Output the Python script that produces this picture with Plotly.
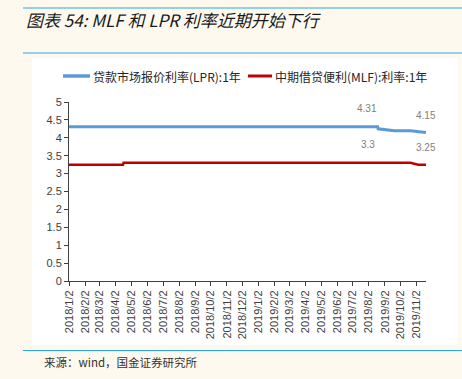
import plotly.graph_objects as go

# ---- data ----
lpr_dates = ["2018-01-02", "2019-08-19", "2019-08-20", "2019-09-20", "2019-10-21", "2019-11-20"]
lpr_values = [4.31, 4.31, 4.25, 4.20, 4.20, 4.15]

mlf_dates = ["2018-01-02", "2018-04-16", "2018-04-17", "2019-10-21", "2019-11-05", "2019-11-20"]
mlf_values = [3.25, 3.25, 3.30, 3.30, 3.25, 3.25]

tick_dates = [f"{y}-{m:02d}-02" for y in (2018, 2019) for m in range(1, 13)][:23]
tick_labels = [f"{d[:4]}/{int(d[5:7])}/2" for d in tick_dates]
y_ticks = [0, 0.5, 1, 1.5, 2, 2.5, 3, 3.5, 4, 4.5, 5]
y_tick_labels = ["0", "0.5", "1", "1.5", "2", "2.5", "3", "3.5", "4", "4.5", "5"]

lpr_name = "贷款市场报价利率(LPR):1年"
mlf_name = "中期借贷便利(MLF):利率:1年"
title_text = "图表 54: MLF 和 LPR 利率近期开始下行"
source_text = "来源：wind，国金证券研究所"

W, H = 462, 379
L, R, T, B = 69, 36, 102, 98
PW, PH = W - L - R, H - T - B

def px(x):
    return (x - L) / PW

def py(y):
    return (H - B - y) / PH

BLUE = "#5b9bd5"
RED = "#c00000"
CREAM = "#fef9ee"
RULE = "#29a9e0"
FONT = "Liberation Sans, Arial, sans-serif"
CJK = "Noto Sans CJK SC"

fig = go.Figure()
fig.add_trace(go.Scatter(x=lpr_dates, y=lpr_values, mode="lines", name=lpr_name,
                         line=dict(color=BLUE, width=3), hoverinfo="skip", showlegend=False))
fig.add_trace(go.Scatter(x=mlf_dates, y=mlf_values, mode="lines", name=mlf_name,
                         line=dict(color=RED, width=2.5), hoverinfo="skip", showlegend=False))

shapes = [
    # white panel
    dict(type="rect", xref="paper", yref="paper", x0=px(32), x1=px(458), y0=py(345), y1=py(58),
         fillcolor="white", line=dict(width=0), layer="below"),
    # rule lines
    dict(type="line", xref="paper", yref="paper", x0=px(23), x1=px(462), y0=py(8), y1=py(8),
         line=dict(color=RULE, width=1.2)),
    dict(type="line", xref="paper", yref="paper", x0=px(23), x1=px(462), y0=py(53), y1=py(53),
         line=dict(color=RULE, width=1.2)),
    dict(type="line", xref="paper", yref="paper", x0=px(23), x1=px(462), y0=py(350.5), y1=py(350.5),
         line=dict(color=RULE, width=1.2)),
    # legend swatches
    dict(type="line", xref="paper", yref="paper", x0=px(63), x1=px(90), y0=py(76), y1=py(76),
         line=dict(color=BLUE, width=3.5)),
    dict(type="line", xref="paper", yref="paper", x0=px(248), x1=px(272), y0=py(76), y1=py(76),
         line=dict(color=RED, width=3)),
]

label_font = dict(family=FONT, size=10, color="#7f7f7f")
legend_font = dict(family=CJK, size=12, color="#262626")
annotations = [
    dict(x=lpr_dates[1], y=lpr_values[1], text="4.31", showarrow=False, xshift=-11, yshift=18, font=label_font),
    dict(x=lpr_dates[-1], y=lpr_values[-1], text="4.15", showarrow=False, xshift=0, yshift=17, font=label_font),
    dict(x=mlf_dates[3], y=mlf_values[3], text="3.3", showarrow=False, xshift=-42, yshift=18, font=label_font),
    dict(x=mlf_dates[-1], y=mlf_values[-1], text="3.25", showarrow=False, xshift=0, yshift=17, font=label_font),
    dict(xref="paper", yref="paper", x=px(91), y=py(76), xanchor="left", yanchor="middle",
         text=lpr_name, showarrow=False, font=legend_font),
    dict(xref="paper", yref="paper", x=px(273), y=py(76), xanchor="left", yanchor="middle",
         text=mlf_name, showarrow=False, font=legend_font),
    dict(xref="paper", yref="paper", x=px(24), y=py(19), xanchor="left", yanchor="middle",
         text=title_text, showarrow=False,
         font=dict(family=CJK, size=17, color="#1a1a1a", style="italic")),
    dict(xref="paper", yref="paper", x=px(42), y=py(362), xanchor="left", yanchor="middle",
         text=source_text, showarrow=False,
         font=dict(family=CJK, size=11.5, color="#333333")),
]

fig.update_layout(
    width=W, height=H,
    margin=dict(l=L, r=R, t=T, b=B, pad=0, autoexpand=False),
    paper_bgcolor=CREAM,
    plot_bgcolor="white",
    shapes=shapes,
    annotations=annotations,
    showlegend=False,
    xaxis=dict(type="date", range=["2018-01-02", "2019-11-20"],
               tickvals=tick_dates, ticktext=tick_labels, tickangle=-90,
               tickfont=dict(family=FONT, size=11, color="#404040"),
               ticks="outside", ticklen=4, tickcolor="#404040",
               showline=True, linecolor="#404040", linewidth=1,
               showgrid=False, zeroline=False, automargin=False),
    yaxis=dict(range=[0, 5], tickvals=y_ticks, ticktext=y_tick_labels,
               tickfont=dict(family=FONT, size=11, color="#404040"),
               ticks="outside", ticklen=4, tickcolor="#404040",
               showline=True, linecolor="#404040", linewidth=1,
               showgrid=False, zeroline=False, automargin=False),
)

fig.write_html("out.html", config={"displayModeBar": False},
               post_script="document.body.style.margin='0';document.body.style.background='#fef9ee';")
